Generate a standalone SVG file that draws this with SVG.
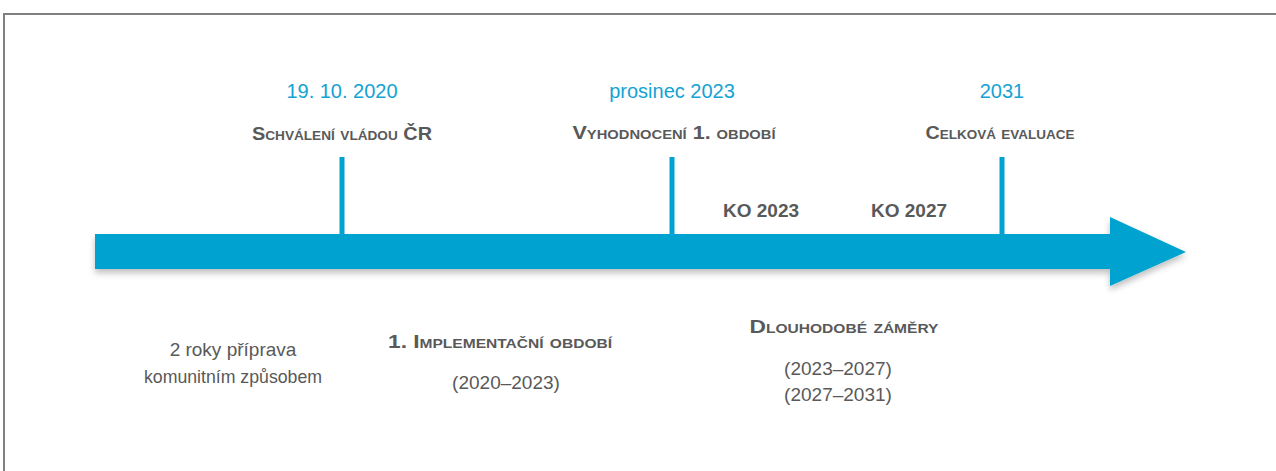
<svg xmlns="http://www.w3.org/2000/svg" width="1276" height="471" viewBox="0 0 1276 471">
<defs>
<filter id="sh" x="-5%" y="-30%" width="110%" height="160%">
<feDropShadow dx="0" dy="4" stdDeviation="3" flood-color="#000" flood-opacity="0.25"/>
</filter>
</defs>
<style>
.date{font-family:"Liberation Sans",Arial,sans-serif;font-size:20px;fill:#14a3d3;text-anchor:middle}
.head{font-family:"Liberation Sans",Arial,sans-serif;font-size:19px;font-weight:bold;font-variant:small-caps;fill:#595959;text-anchor:middle}
.ko{font-family:"Liberation Sans",Arial,sans-serif;font-size:19px;font-weight:bold;fill:#595959;text-anchor:middle}
.body{font-family:"Liberation Sans",Arial,sans-serif;font-size:19px;fill:#595959;text-anchor:middle}
.tick{fill:#00a3d0}
</style>
<rect width="1276" height="471" fill="#fff"/>
<path d="M4,471 V14 H1276" fill="none" stroke="#808080" stroke-width="2"/>
<g id="connectors">
<path id="timeline" d="M95,234 H1110 V217 L1186,252 L1110,286 V269 H95 Z" fill="#00a3d0" filter="url(#sh)"/>
</g>
<g id="m2020">
<rect class="tick" x="339.5" y="157" width="5" height="78"/>
<text class="date" x="342" y="98">19. 10. 2020</text>
<text class="head" x="342" y="140" textLength="180" lengthAdjust="spacingAndGlyphs">Schválení vládou ČR</text>
</g>
<g id="m2023">
<rect class="tick" x="669.5" y="157" width="5" height="78"/>
<text class="date" x="672" y="98">prosinec 2023</text>
<text class="head" x="674" y="139" textLength="203" lengthAdjust="spacingAndGlyphs">Vyhodnocení 1. období</text>
</g>
<g id="m2031">
<rect class="tick" x="999.5" y="157" width="5" height="78"/>
<text class="date" x="1002" y="98">2031</text>
<text class="head" x="1000" y="139" textLength="149" lengthAdjust="spacingAndGlyphs">Celková evaluace</text>
</g>
<g id="ko2023"><text class="ko" x="761" y="217">KO 2023</text></g>
<g id="ko2027"><text class="ko" x="909" y="217">KO 2027</text></g>
<g id="priprava">
<text class="body" x="233" y="356">2 roky příprava</text>
<text class="body" x="233" y="383" textLength="178" lengthAdjust="spacingAndGlyphs">komunitním způsobem</text>
</g>
<g id="impl">
<text class="head" x="500" y="348" textLength="224" lengthAdjust="spacingAndGlyphs">1. Implementační období</text>
<text class="body" x="506" y="389">(2020–2023)</text>
</g>
<g id="zamery">
<text class="head" x="844" y="333" textLength="189" lengthAdjust="spacingAndGlyphs">Dlouhodobé záměry</text>
<text class="body" x="838" y="375">(2023–2027)</text>
<text class="body" x="838" y="401">(2027–2031)</text>
</g>
</svg>
